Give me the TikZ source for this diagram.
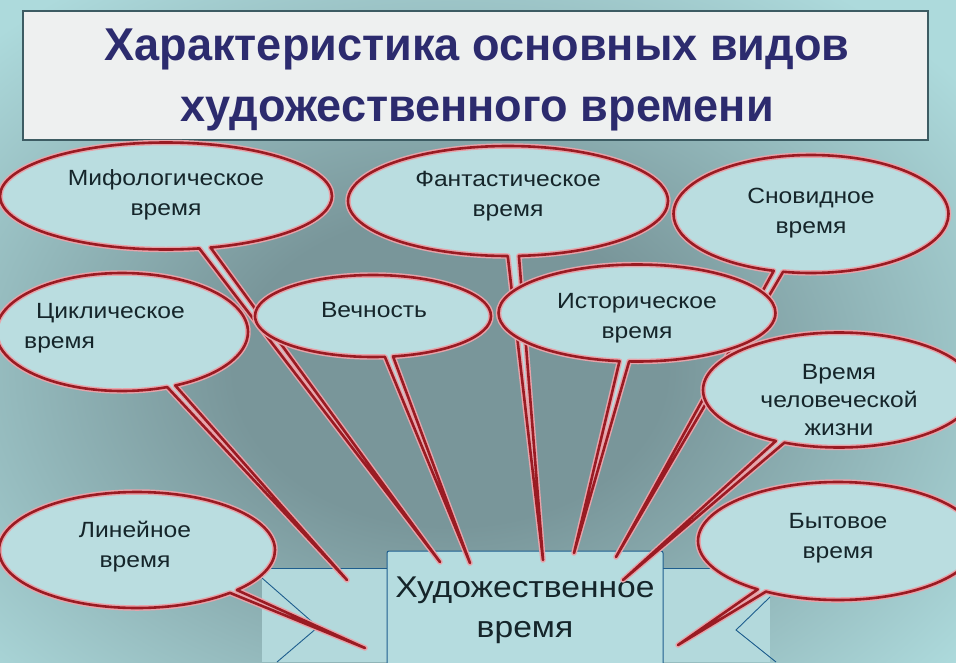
\documentclass[tikz,border=0pt]{standalone}
\usepackage{fontspec}
\usetikzlibrary{shapes.callouts}
\newfontfamily\lblfont[FakeStretch=1.12]{Liberation Sans}
\newfontfamily\headfont[FakeStretch=0.98]{Liberation Sans}

\definecolor{bglight}{HTML}{ADDADC}
\definecolor{bgdark}{HTML}{79969A}
\definecolor{titlefill}{HTML}{EEF0F0}
\definecolor{titleedge}{HTML}{3D5C63}
\definecolor{titleink}{HTML}{2C2B6E}
\definecolor{bubblefill}{HTML}{BADDE0}
\definecolor{bubblered}{HTML}{9A1B23}
\definecolor{bubbleglow}{HTML}{E8A3AA}
\definecolor{lblink}{HTML}{15252A}
\definecolor{artfill}{HTML}{B5DCDF}
\definecolor{artedge}{HTML}{1E5E8E}
\definecolor{lowfill}{HTML}{B3D9DC}

\pgfdeclareradialshading{bgglow}{\pgfpoint{0bp}{0bp}}{color(0bp)=(bgdark); color(10bp)=(bgdark); color(30bp)=(bglight); color(50bp)=(bglight)}

\tikzset{
  bubble/.style={ellipse callout, draw=bubblered, line width=2.6pt,
    line join=round, callout pointer arc=4, inner sep=0pt,
    preaction={fill=bubblefill, draw=bubbleglow, line width=5.5pt, line join=round}},
  lbl/.style={font=\lblfont\fontsize{22}{30}\selectfont, text=lblink, align=center, inner sep=0pt},
  titlebox/.style={draw=titleedge, line width=1.2pt, fill=titlefill,
    minimum width=905, minimum height=129, inner sep=0pt},
  titletxt/.style={font=\headfont\bfseries\fontsize{46}{61}\selectfont, text=titleink, align=center, inner sep=0pt},
  artbox/.style={draw=artedge, line width=1pt, fill=artfill, rounded corners=2pt,
    minimum width=276, minimum height=118, inner sep=0pt,
    font=\lblfont\fontsize{30}{40}\selectfont, text=lblink, align=center},
  blueline/.style={draw=artedge, line width=0.9pt}
}

\begin{document}
\begin{tikzpicture}[x=1pt,y=-1pt]
% page and background
\useasboundingbox (0,0) rectangle (956,662);
\clip (0,0) rectangle (956,662);
\fill[bglight] (0,0) rectangle (956,662);
\shade[shading=bgglow] (-90,-20) rectangle (990,760);

% title
\node[titlebox] (title) at (475.5,75.5) {};
\node[titletxt] (titletext) at (477,80) {Характеристика основных видов\\художественного времени};

% lighter panel behind the centre box
\fill[lowfill] (262,568) rectangle (770,662);
\draw[blueline] (262,568) -- (387,568);
\draw[blueline] (663,568) -- (720,568);
\draw[blueline] (262,578) -- (318,627) -- (277,662);
\draw[blueline] (770,597) -- (736,630) -- (776,662);

% centre box
\node[artbox] (art) at (525,610) {Художественное\\время};

% where the pointers end
\coordinate (cycltip) at (347,580);
\coordinate (mythtip) at (440,562);
\coordinate (etertip) at (470,563);
\coordinate (fanttip) at (543,560);
\coordinate (histtip) at (574,553);
\coordinate (dreamtip) at (616,557);
\coordinate (lifetip) at (623,580);
\coordinate (dailytip) at (678,645);
\coordinate (lintip) at (365,648);

% callouts
\node[bubble, minimum width=252, minimum height=118, callout absolute pointer={(cycltip)}] (cycl) at (122,332) {};
\node[lbl, anchor=west, align=left] (cycllbl) at (24,328) {\hspace*{12pt}Циклическое\\время};

\node[bubble, minimum width=332, minimum height=107, callout absolute pointer={(mythtip)}] (myth) at (166,196) {};
\node[lbl] (mythlbl) at (166,195) {Мифологическое\\время};

\node[bubble, minimum width=320, minimum height=110, callout absolute pointer={(fanttip)}] (fant) at (508,201) {};
\node[lbl] (fantlbl) at (508,196) {Фантастическое\\время};

\node[bubble, minimum width=275, minimum height=118, callout absolute pointer={(dreamtip)}] (dream) at (811,214) {};
\node[lbl] (dreamlbl) at (811,213) {Сновидное\\время};

\node[bubble, minimum width=236, minimum height=82, callout absolute pointer={(etertip)}] (eter) at (373,316) {};
\node[lbl] (eterlbl) at (374,310) {Вечность};

\node[bubble, minimum width=277, minimum height=97, callout absolute pointer={(histtip)}] (hist) at (637,313) {};
\node[lbl] (histlbl) at (637,318) {Историческое\\время};

\node[bubble, minimum width=280, minimum height=118, callout absolute pointer={(dailytip)}] (daily) at (838,541) {};
\node[lbl] (dailylbl) at (838,538) {Бытовое\\время};

\node[bubble, minimum width=272, minimum height=115, callout absolute pointer={(lifetip)}] (life) at (839,390) {};
\node[lbl, font=\lblfont\fontsize{22}{28}\selectfont] (lifelbl) at (839,400) {Время\\человеческой\\жизни};

\node[bubble, minimum width=276, minimum height=116, callout absolute pointer={(lintip)}] (lin) at (137,550) {};
\node[lbl] (linlbl) at (135,547) {Линейное\\время};
\end{tikzpicture}
\end{document}
